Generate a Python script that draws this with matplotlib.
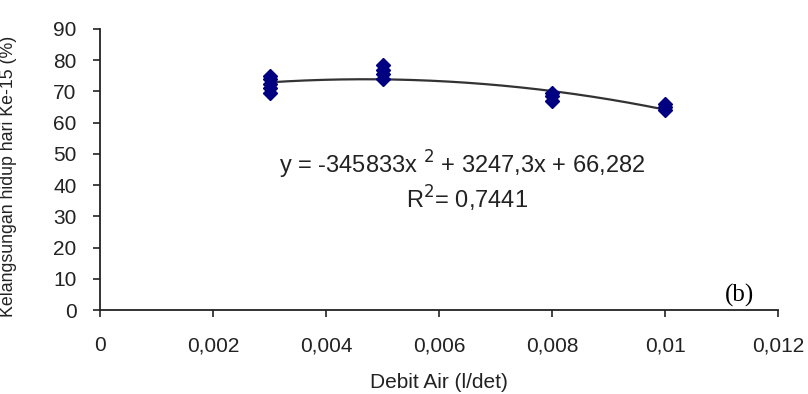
import numpy as np
import matplotlib
matplotlib.use("Agg")
import matplotlib.pyplot as plt

plt.rcParams['font.family'] = ['Liberation Sans', 'DejaVu Sans']

# Data
debit = [0.003]*5 + [0.005]*4 + [0.008]*3 + [0.01]*3
survival = [69.5, 71, 72.5, 74, 75,
            74, 75.5, 77, 78.5,
            67, 68.5, 69.5,
            64, 65, 66]
coef = [-345833, 3247.3, 66.282]
xticks = [0, 0.002, 0.004, 0.006, 0.008, 0.01, 0.012]
xticklabels = ["0", "0,002", "0,004", "0,006", "0,008", "0,01", "0,012"]
yticks = list(range(0, 91, 10))

fig = plt.figure(figsize=(8.08, 3.94), dpi=100)
ax = fig.add_axes([100/808, 1-310/394, 678/808, 281/394])

ax.plot(debit, survival, linestyle='none', marker='D', markersize=7.5,
        color='#000080', markeredgecolor='#000080', zorder=3)

xx = np.linspace(min(debit), max(debit), 200)
yy = np.polyval(coef, xx)
ax.plot(xx, yy, color='#333333', linewidth=1.6, zorder=2)

ax.set_xlim(0, 0.012)
ax.set_ylim(0, 90)
ax.set_xticks(xticks)
ax.set_xticklabels(xticklabels)
ax.set_yticks(yticks)
for s in ['top', 'right']:
    ax.spines[s].set_visible(False)
for s in ['left', 'bottom']:
    ax.spines[s].set_linewidth(1.3)
    ax.spines[s].set_color('#222222')
ax.tick_params(axis='both', labelsize=15, length=5, width=1.2, colors='#222222',
               labelcolor='#222222')
ax.tick_params(axis='x', pad=14)
ax.tick_params(axis='y', pad=12)

ax.set_xlabel("Debit Air (l/det)", fontsize=15, color='#222222')
ax.xaxis.set_label_coords(0.5, -(383 - 310) / 281, transform=ax.transAxes)
ax.xaxis.label.set_va('center')
ax.set_ylabel("Kelangsungan hidup hari Ke-15 (%)", fontsize=12.8, color='#222222')
ax.yaxis.set_label_coords((9 - 100) / 678, (310 - 176) / 281, transform=ax.transAxes)
ax.yaxis.label.set_va('center')

ax.text(0.0064, 46.5, "y = -345833x $^{2}$ + 3247,3x + 66,282", fontsize=17,
        ha='center', va='center', color='#222222')
ax.text(0.0065, 35.5, "R$^{2}$= 0,7441", fontsize=17,
        ha='center', va='center', color='#222222')
ax.text(0.01131, 4.8, "(b)", fontsize=18, family='Liberation Serif',
        ha='center', va='center', color='black')

fig.savefig("out.png", dpi=100)
